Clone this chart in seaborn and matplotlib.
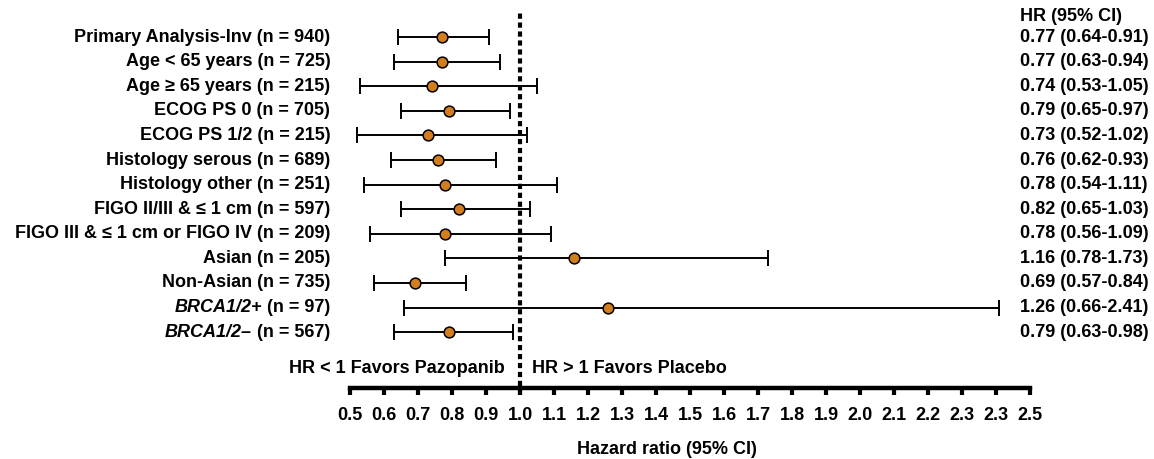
"""Forest plot of PFS hazard ratios by subgroup (pazopanib vs placebo)."""
import matplotlib.pyplot as plt
import matplotlib.transforms as mtransforms
import seaborn as sns
import pandas as pd

SUBGROUPS = [
    "Primary Analysis-Inv", "Age < 65 years", "Age \u2265 65 years", "ECOG PS 0",
    "ECOG PS 1/2", "Histology serous", "Histology other", "FIGO II/III & \u2264 1 cm",
    "FIGO III & \u2264 1 cm or FIGO IV", "Asian", "Non-Asian", "BRCA1/2+", "BRCA1/2\u2013",
]
N_PATIENTS = [940, 725, 215, 705, 215, 689, 251, 597, 209, 205, 735, 97, 567]
ITALIC_NAME = [False] * 11 + [True, True]
HR = [0.77, 0.77, 0.74, 0.79, 0.73, 0.76, 0.78, 0.82, 0.78, 1.16, 0.69, 1.26, 0.79]
CI_LOW = [0.64, 0.63, 0.53, 0.65, 0.52, 0.62, 0.54, 0.65, 0.56, 0.78, 0.57, 0.66, 0.63]
CI_HIGH = [0.91, 0.94, 1.05, 0.97, 1.02, 0.93, 1.11, 1.03, 1.09, 1.73, 0.84, 2.41, 0.98]
TICKS = [0.5, 0.6, 0.7, 0.8, 0.9, 1.0, 1.1, 1.2, 1.3, 1.4, 1.5, 1.6, 1.7, 1.8, 1.9,
         2.0, 2.1, 2.2, 2.3, 2.4, 2.5]
# the published figure labels the 2.4 tick as "2.3"
TICK_LABELS = ["0.5", "0.6", "0.7", "0.8", "0.9", "1.0", "1.1", "1.2", "1.3", "1.4", "1.5",
               "1.6", "1.7", "1.8", "1.9", "2.0", "2.1", "2.2", "2.3", "2.3", "2.5"]

ORANGE = "#D27D1E"
FS = 13


def main() -> None:
    df = pd.DataFrame({"name": SUBGROUPS, "n": N_PATIENTS, "hr": HR,
                       "lo": CI_LOW, "hi": CI_HIGH, "italic": ITALIC_NAME})
    df["row"] = range(len(df))

    sns.set_theme(style="white")
    plt.rcParams["font.family"] = ["Liberation Sans", "DejaVu Sans"]
    plt.rcParams["font.weight"] = "bold"
    plt.rcParams["text.color"] = "black"
    plt.rcParams["axes.labelcolor"] = "black"
    plt.rcParams["xtick.color"] = "black"

    fig = plt.figure(figsize=(11.54, 4.59), dpi=100)
    ax = fig.add_axes([0.3033, 0.1547, 0.5893, 0.817])

    ax.errorbar(df["hr"], df["row"],
                xerr=[df["hr"] - df["lo"], df["hi"] - df["hr"]],
                fmt="none", ecolor="black", elinewidth=1.4, capsize=6.1, capthick=1.4,
                zorder=2)
    sns.scatterplot(data=df, x="hr", y="row", ax=ax, s=60, color=ORANGE,
                    edgecolor="black", linewidth=1.1, zorder=3, legend=False)

    ax.axvline(1.0, ymin=-0.02, ymax=1.0, color="black", linewidth=3.0,
               linestyle=(0, (1.25, 0.9)), clip_on=False, zorder=1)

    ax.set_xlim(0.5, 2.5)
    ax.set_ylim(14.27, -0.98)
    ax.set_xticks(TICKS)
    ax.set_xticklabels(TICK_LABELS, fontsize=FS, fontweight="bold")
    ax.set_yticks([])
    ax.tick_params(axis="x", bottom=True, direction="out", length=5, width=3, pad=9,
                   color="black", labelcolor="black")
    for side in ["top", "right", "left"]:
        ax.spines[side].set_visible(False)
    ax.spines["bottom"].set_linewidth(3.2)
    ax.spines["bottom"].set_color("black")
    ax.set_xlabel("Hazard ratio (95% CI)", fontsize=FS, fontweight="bold",
                  x=0.466, labelpad=12)
    ax.set_ylabel("")

    # subgroup labels on the left, BRCA names in italics
    trans = mtransforms.blended_transform_factory(ax.transAxes, ax.transData)
    for _, r in df.iterrows():
        if r["italic"]:
            t = ax.text(-0.029, r["row"], f" (n = {r['n']})", transform=trans,
                        ha="right", va="center", fontsize=FS, fontweight="bold")
            ax.annotate(r["name"], xy=(0, 0.5), xycoords=t, ha="right", va="center",
                        fontsize=FS, fontweight="bold", fontstyle="italic")
        else:
            ax.text(-0.029, r["row"], f"{r['name']} (n = {r['n']})", transform=trans,
                    ha="right", va="center", fontsize=FS, fontweight="bold")

        ax.text(0.985, r["row"], f"{r['hr']:.2f} ({r['lo']:.2f}-{r['hi']:.2f})",
                transform=trans, ha="left", va="center", fontsize=FS, fontweight="bold")

    ax.text(0.985, -0.85, "HR (95% CI)", transform=trans, ha="left", va="center",
            fontsize=FS, fontweight="bold")

    ax.text(0.956, 13.46, "HR < 1 Favors Pazopanib", ha="right", va="center",
            fontsize=FS, fontweight="bold")
    ax.text(1.035, 13.46, "HR > 1 Favors Placebo", ha="left", va="center",
            fontsize=FS, fontweight="bold")

    fig.savefig("out.png", dpi=100, facecolor="white")
    plt.close(fig)


if __name__ == "__main__":
    main()
